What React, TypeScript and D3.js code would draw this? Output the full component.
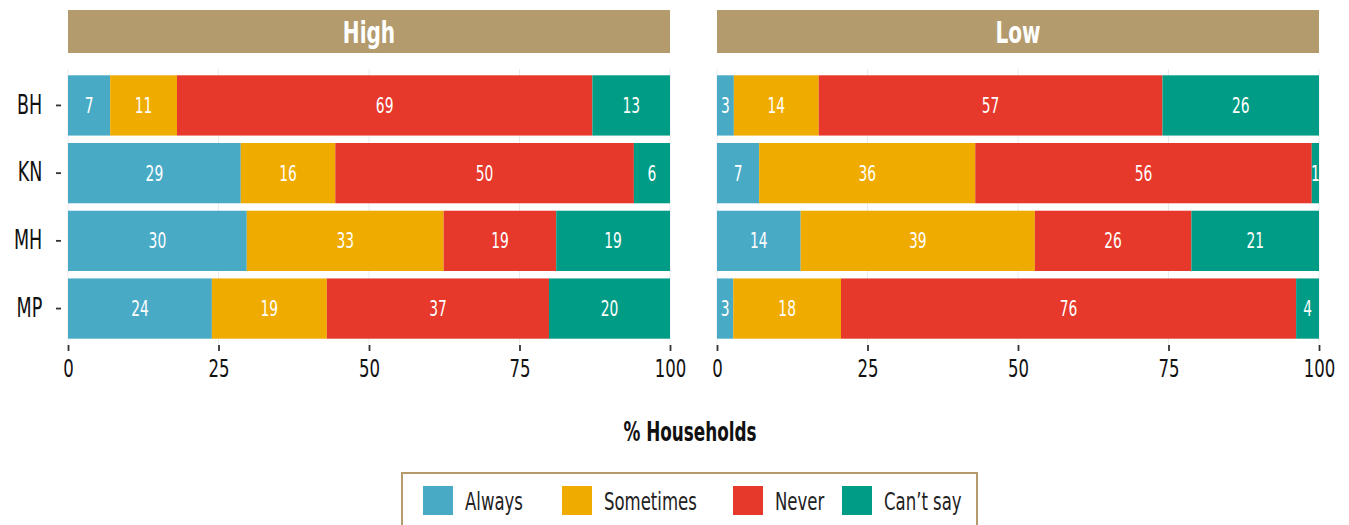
import React, { useEffect, useRef } from 'react'
import * as d3 from 'd3'

// states and response categories
const states = ['BH', 'KN', 'MH', 'MP']
const responses = ['Always', 'Sometimes', 'Never', "Can't say"]
const panels = ['High', 'Low']
const colors = ['#49aac6', '#f0ab00', '#e6382b', '#009c85']
const xTicks = [0, 25, 50, 75, 100]

// % households per state (order: Always, Sometimes, Never, Can't say)
const highBH = [7.0, 11.1, 69.0, 12.9]
const highKN = [28.7, 15.7, 49.6, 6.0]
const highMH = [29.7, 32.7, 18.7, 18.9]
const highMP = [23.9, 19.1, 36.9, 20.1]
const lowBH = [2.8, 14.1, 57.1, 26.0]
const lowKN = [7.0, 35.9, 55.9, 1.2]
const lowMH = [13.9, 38.9, 26.0, 21.2]
const lowMP = [2.7, 17.9, 75.6, 3.8]

const FONT = "'DejaVu Sans Condensed', 'DejaVu Sans', sans-serif"
const SQ = 0.75 // horizontal squeeze for regular text
const SQB = 0.72 // and for bold text

const App = () => {
  const ref = useRef<SVGSVGElement | null>(null)

  useEffect(() => {
    document.body.style.margin = '0'
    const svg = d3.select(ref.current)
    svg.selectAll('*').remove()

    const stripColor = '#b39b6e'

    // narrow text helper, placed with a transform so it can be squeezed
    const label = (parent: any, x: number, y: number, txt: string, size: number, bold = false, fill = '#111', anchor = 'middle') =>
      parent.append('text')
        .attr('transform', `translate(${x},${y}) scale(${bold ? SQB : SQ},1)`)
        .attr('dy', '0.36em')
        .attr('text-anchor', anchor)
        .attr('fill', fill)
        .style('font-family', FONT)
        .style('font-weight', bold ? 'bold' : 'normal')
        .style('font-size', `${size}px`)
        .text(txt)

    const dataByPanel: { [k: string]: number[][] } = {
      High: [highBH, highKN, highMH, highMP],
      Low: [lowBH, lowKN, lowMH, lowMP],
    }

    const panelX = d3.scaleBand().domain(panels).range([68, 1319]).paddingInner(0.0724)

    const y = d3.scaleBand()
      .domain(states)
      .range([69, 345])
      .paddingInner(0.11)
      .paddingOuter(0.093)

    const color = d3.scaleOrdinal<string, string>().domain(responses).range(colors)

    panels.forEach((panel) => {
      const x0 = panelX(panel) as number
      const x = d3.scaleLinear().domain([0, 100]).range([x0, x0 + panelX.bandwidth()])
      const g = svg.append('g')

      // strip
      g.append('rect')
        .attr('x', x0)
        .attr('y', 10)
        .attr('width', panelX.bandwidth())
        .attr('height', 43)
        .attr('fill', stripColor)
      label(g, x0 + panelX.bandwidth() / 2, 32, panel, 31, true, 'white')

      // grid
      g.selectAll('.grid')
        .data(xTicks)
        .join('line')
        .attr('x1', (d) => x(d))
        .attr('x2', (d) => x(d))
        .attr('y1', 69)
        .attr('y2', 345)
        .attr('stroke', '#ebebeb')
        .attr('stroke-width', 1)

      // stacked bars
      const rows = states.map((s, i) => {
        const row: any = { state: s }
        responses.forEach((r, j) => (row[r] = dataByPanel[panel][i][j]))
        return row
      })
      const stacked = d3.stack().keys(responses)(rows)

      stacked.forEach((series) => {
        const layer = g.append('g').attr('fill', color(series.key))
        layer.selectAll('rect')
          .data(series)
          .join('rect')
          .attr('x', (d) => x(d[0]))
          .attr('width', (d) => Math.max(0, x(Math.min(100, d[1])) - x(d[0])))
          .attr('y', (d: any) => y(d.data.state) as number)
          .attr('height', y.bandwidth())
        series.forEach((d: any) => {
          const cx = (x(d[0]) + x(Math.min(100, d[1]))) / 2
          const cy = (y(d.data.state) as number) + y.bandwidth() / 2
          label(layer, cx, cy, d3.format('.0f')(d[1] - d[0]), 20.5, false, 'white')
        })
      })

      // x axis
      const xAxis = g.append('g')
        .attr('transform', 'translate(0,345)')
        .call(d3.axisBottom(x).tickValues(xTicks).tickSize(6).tickPadding(9).tickFormat(d3.format('d')))
      xAxis.select('.domain').remove()
      xAxis.selectAll('line').attr('stroke', '#333').attr('stroke-width', 1.8)
      xAxis.selectAll('text')
        .attr('fill', '#111')
        .attr('transform', `scale(${SQ},1)`)
        .style('font-family', FONT)
        .style('font-size', '24.5px')
    })

    // y axis
    const yAxis = svg.append('g')
      .attr('transform', 'translate(61,0)')
      .call(d3.axisLeft(y).tickSize(5).tickPadding(20))
    yAxis.select('.domain').remove()
    yAxis.selectAll('line').attr('stroke', '#333').attr('stroke-width', 1.8)
    yAxis.selectAll('text')
      .attr('fill', '#111')
      .attr('transform', `scale(${SQ},1)`)
      .style('font-family', FONT)
      .style('font-size', '26px')

    // axis title
    label(svg, 690, 432, '% Households', 26, true)

    // legend
    const legend = svg.append('g')
    legend.append('rect')
      .attr('x', 402)
      .attr('y', 473)
      .attr('width', 575)
      .attr('height', 70)
      .attr('fill', 'white')
      .attr('stroke', stripColor)
      .attr('stroke-width', 2)
    const legendX = [423, 562, 733, 842]
    responses.forEach((r, i) => {
      legend.append('rect')
        .attr('x', legendX[i])
        .attr('y', 486)
        .attr('width', 30)
        .attr('height', 29)
        .attr('fill', color(r))
      label(legend, legendX[i] + 42, 501, r.replace("'", '\u2019'), 24.5, false, '#222', 'start')
    })
  }, [])

  return <svg ref={ref} width={1349} height={525} style={{ display: 'block' }} />
}

export default App
